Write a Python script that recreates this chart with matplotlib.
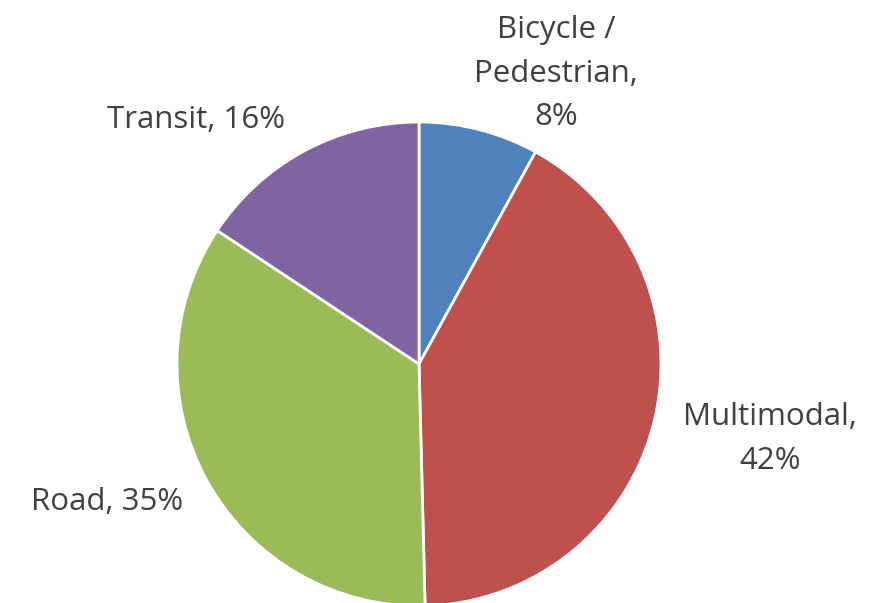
import matplotlib.pyplot as plt

categories = ['Bicycle /\nPedestrian,\n8%', 'Multimodal,\n42%', 'Road, 35%', 'Transit, 16%']
shares = [8.0, 41.6, 34.7, 15.7]
colors = ['#4F81BD', '#C0504D', '#9BBB59', '#8064A2']

# label anchor points, in units of the pie radius
label_pos = [(0.566, 1.20), (1.45, -0.31), (-1.29, -0.57), (-0.92, 1.01)]

fig = plt.figure(figsize=(8.9, 6.03), dpi=100)
ax = fig.add_axes([0, 0, 1, 1])

wedges, texts = ax.pie(shares, labels=categories, colors=colors, startangle=90,
                       counterclock=False,
                       wedgeprops=dict(edgecolor='white', linewidth=2),
                       textprops=dict(fontsize=22.5, color='#404040', family='Open Sans'))
for t, (x, y) in zip(texts, label_pos):
    t.set_position((x, y))
    t.set_ha('center')
    t.set_va('center')
    t.set_multialignment('center')
    t.set_linespacing(1.6)

ax.set_xlim(-419 / 242, 471 / 242)
ax.set_ylim(-239 / 242, 364 / 242)
ax.set_aspect('equal')
ax.axis('off')

fig.savefig('out.png', dpi=100)
